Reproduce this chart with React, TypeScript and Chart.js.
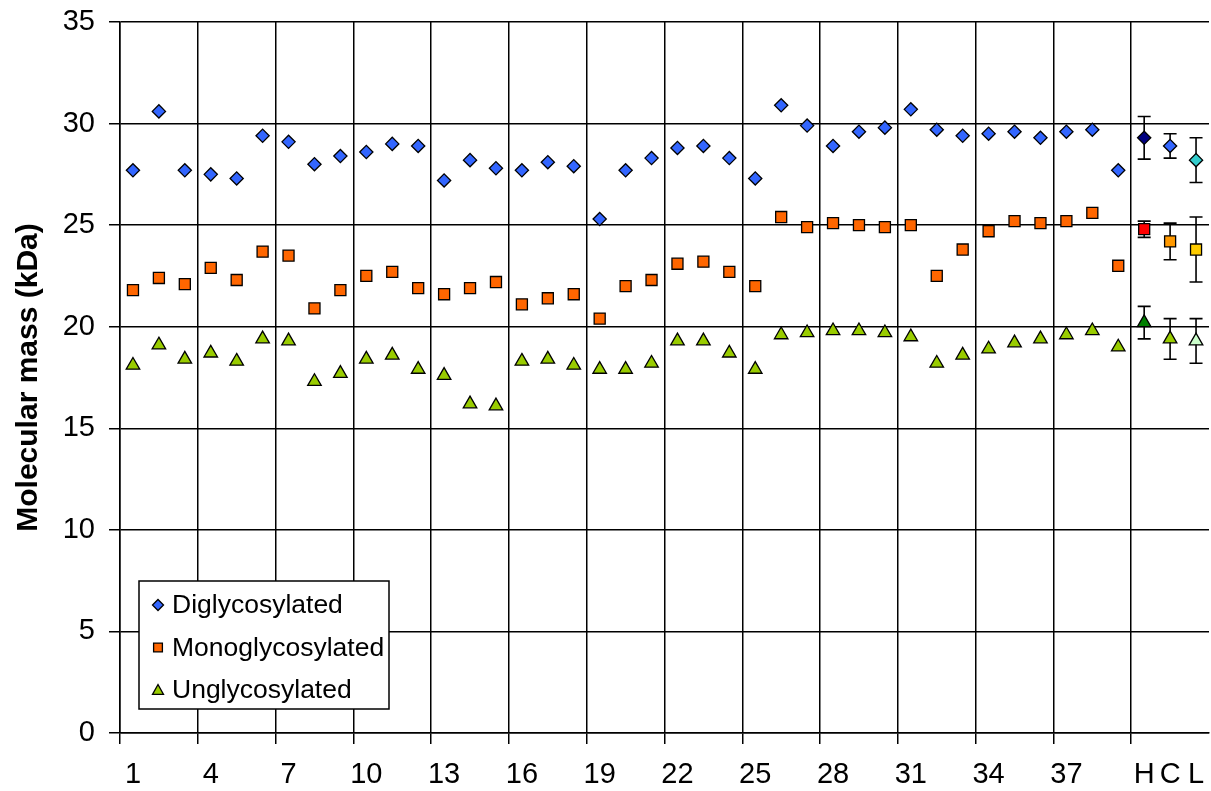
import React, { useEffect, useRef } from 'react';
import { Chart, registerables } from 'chart.js';

Chart.register(...registerables);

const categories = [
  '1', '2', '3', '4', '5', '6', '7', '8', '9', '10',
  '11', '12', '13', '14', '15', '16', '17', '18', '19', '20',
  '21', '22', '23', '24', '25', '26', '27', '28', '29', '30',
  '31', '32', '33', '34', '35', '36', '37', '38', '39', 'H', 'C', 'L',
];

const tickLabels = ['1', '4', '7', '10', '13', '16', '19', '22', '25', '28', '31', '34', '37', 'H', 'C', 'L'];

const diglycosylated = [
  27.7, 30.6, 27.7, 27.5, 27.3, 29.4, 29.1, 28.0, 28.4, 28.6,
  29.0, 28.9, 27.2, 28.2, 27.8, 27.7, 28.1, 27.9, 25.3, 27.7,
  28.3, 28.8, 28.9, 28.3, 27.3, 30.9, 29.9, 28.9, 29.6, 29.8,
  30.7, 29.7, 29.4, 29.5, 29.6, 29.3, 29.6, 29.7, 27.7, 29.3, 28.9, 28.2,
];

const monoglycosylated = [
  21.8, 22.4, 22.1, 22.9, 22.3, 23.7, 23.5, 20.9, 21.8, 22.5,
  22.7, 21.9, 21.6, 21.9, 22.2, 21.1, 21.4, 21.6, 20.4, 22.0,
  22.3, 23.1, 23.2, 22.7, 22.0, 25.4, 24.9, 25.1, 25.0, 24.9,
  25.0, 22.5, 23.8, 24.7, 25.2, 25.1, 25.2, 25.6, 23.0, 24.8, 24.2, 23.8,
];

const unglycosylated = [
  18.1, 19.1, 18.4, 18.7, 18.3, 19.4, 19.3, 17.3, 17.7, 18.4,
  18.6, 17.9, 17.6, 16.2, 16.1, 18.3, 18.4, 18.1, 17.9, 17.9,
  18.2, 19.3, 19.3, 18.7, 17.9, 19.6, 19.7, 19.8, 19.8, 19.7,
  19.5, 18.2, 18.6, 18.9, 19.2, 19.4, 19.6, 19.8, 19.0, 20.2, 19.4, 19.3,
];

// error bars (± value) for the H, C, L controls only
const controlCategories = ['H', 'C', 'L'];
const diglycosylatedError = [1.05, 0.6, 1.1];
const monoglycosylatedError = [0.4, 0.9, 1.6];
const unglycosylatedError = [0.8, 1.0, 1.1];

const seriesNames = ['Diglycosylated', 'Monoglycosylated', 'Unglycosylated'];

// ---- styles ----
const FONT = "'Liberation Sans', Arial, Helvetica, sans-serif";
const SERIES_COLORS = ['#3366FF', '#FF6600', '#99CC00'];
const CONTROL_COLORS = [
  ['#000080', '#3366FF', '#33CCCC'],
  ['#FF0000', '#FF9900', '#FFCC00'],
  ['#008000', '#99CC00', '#CCFFCC'],
];
const POINT_STYLES: any[] = ['rectRot', 'rect', 'triangle'];
const POINT_RADII = [6.6, 7.8, 7.8];

function pointColors(seriesIdx: number) {
  return categories.map((c) => {
    const k = controlCategories.indexOf(c);
    return k >= 0 ? CONTROL_COLORS[seriesIdx][k] : SERIES_COLORS[seriesIdx];
  });
}

const errorArrays = [diglycosylatedError, monoglycosylatedError, unglycosylatedError];

const errorBarPlugin = {
  id: 'errorBars',
  beforeDatasetsDraw(chart: any) {
    const { ctx, scales } = chart;
    const x = scales.x;
    const y = scales.y;
    ctx.save();
    ctx.strokeStyle = '#000';
    ctx.lineWidth = 1.6;
    chart.data.datasets.forEach((ds: any, di: number) => {
      const errs = errorArrays[di];
      controlCategories.forEach((cat, k) => {
        const idx = categories.indexOf(cat);
        const v = ds.data[idx];
        const e = errs[k];
        const px = x.getPixelForValue(idx);
        const top = y.getPixelForValue(v + e);
        const bot = y.getPixelForValue(v - e);
        const cap = 6.5;
        ctx.beginPath();
        ctx.moveTo(px, top);
        ctx.lineTo(px, bot);
        ctx.moveTo(px - cap, top);
        ctx.lineTo(px + cap, top);
        ctx.moveTo(px - cap, bot);
        ctx.lineTo(px + cap, bot);
        ctx.stroke();
      });
    });
    ctx.restore();
  },
};

function drawMarker(ctx: CanvasRenderingContext2D, style: string, x: number, y: number, s: number) {
  ctx.beginPath();
  if (style === 'rectRot') {
    ctx.moveTo(x, y - s);
    ctx.lineTo(x + s, y);
    ctx.lineTo(x, y + s);
    ctx.lineTo(x - s, y);
  } else if (style === 'rect') {
    ctx.rect(x - s * 0.8, y - s * 0.8, s * 1.6, s * 1.6);
  } else {
    ctx.moveTo(x, y - s);
    ctx.lineTo(x + s, y + s * 0.8);
    ctx.lineTo(x - s, y + s * 0.8);
  }
  ctx.closePath();
  ctx.fill();
  ctx.stroke();
}

const boxLegendPlugin = {
  id: 'boxLegend',
  afterDraw(chart: any) {
    const { ctx, chartArea } = chart;
    const left = chartArea.left + 19;
    const top = chartArea.bottom - 152;
    const w = 250;
    const h = 128;
    ctx.save();
    ctx.fillStyle = '#fff';
    ctx.strokeStyle = '#000';
    ctx.lineWidth = 1.5;
    ctx.fillRect(left, top, w, h);
    ctx.strokeRect(left, top, w, h);
    ctx.font = `26.5px ${FONT}`;
    ctx.textBaseline = 'middle';
    ctx.textAlign = 'left';
    chart.data.datasets.forEach((ds: any, i: number) => {
      const cy = top + 24 + i * 42.5;
      ctx.fillStyle = SERIES_COLORS[i];
      ctx.strokeStyle = '#000';
      ctx.lineWidth = 1.3;
      drawMarker(ctx, POINT_STYLES[i], left + 19, cy, 5.5);
      ctx.fillStyle = '#000';
      ctx.fillText(ds.label, left + 33, cy + 1);
    });
    ctx.restore();
  },
};

export default function App() {
  const canvasRef = useRef<HTMLCanvasElement | null>(null);

  useEffect(() => {
    if (!canvasRef.current) return;
    const seriesData = [diglycosylated, monoglycosylated, unglycosylated];
    const chart = new Chart(canvasRef.current, {
      type: 'line',
      data: {
        labels: categories,
        datasets: seriesData.map((d, i) => ({
          label: seriesNames[i],
          data: d,
          showLine: false,
          pointStyle: POINT_STYLES[i],
          pointRadius: POINT_RADII[i],
          pointBackgroundColor: pointColors(i),
          pointBorderColor: '#000',
          pointBorderWidth: 1.3,
          backgroundColor: SERIES_COLORS[i],
          borderColor: '#000',
        })),
      },
      options: {
        responsive: false,
        animation: false,
        events: [],
        layout: { autoPadding: false, padding: { left: 0, right: 2, top: 22, bottom: 0 } },
        plugins: {
          legend: { display: false },
          tooltip: { enabled: false },
        },
        scales: {
          x: {
            type: 'category',
            offset: true,
            grid: {
              offset: true,
              color: (ctx: any) => (ctx.index % 3 === 0 ? '#000' : 'rgba(0,0,0,0)'),
              lineWidth: 1.5,
              drawTicks: true,
              tickLength: 11,
            },
            border: { color: '#000', width: 1.5 },
            ticks: {
              autoSkip: false,
              maxRotation: 0,
              padding: 14,
              color: '#000',
              font: { family: FONT, size: 29 },
              callback: (_v: any, index: number) =>
                tickLabels.includes(categories[index]) ? categories[index] : '',
            },
            afterFit: (scale: any) => {
              scale.height = 58;
              scale.paddingLeft = 0;
              scale.paddingRight = 0;
            },
          },
          y: {
            min: 0,
            max: 35,
            ticks: {
              stepSize: 5,
              padding: 14,
              color: '#000',
              font: { family: FONT, size: 29 },
            },
            grid: {
              color: '#000',
              lineWidth: 1.5,
              drawTicks: true,
              tickLength: 11,
            },
            border: { color: '#000', width: 1.5 },
            title: {
              display: true,
              text: 'Molecular mass (kDa)',
              color: '#000',
              font: { family: FONT, size: 30, weight: 'bold' },
              padding: { top: 11, bottom: 0 },
            },
            afterFit: (scale: any) => {
              scale.width = 120;
              scale.paddingTop = 0;
              scale.paddingBottom = 0;
            },
          },
        },
      } as any,
      plugins: [errorBarPlugin, boxLegendPlugin],
    });
    return () => chart.destroy();
  }, []);

  return (
    <div style={{ position: 'fixed', left: 0, top: 0, width: 1211, height: 791, background: '#fff' }}>
      <canvas ref={canvasRef} width={1211} height={791} style={{ display: 'block' }} />
    </div>
  );
}
